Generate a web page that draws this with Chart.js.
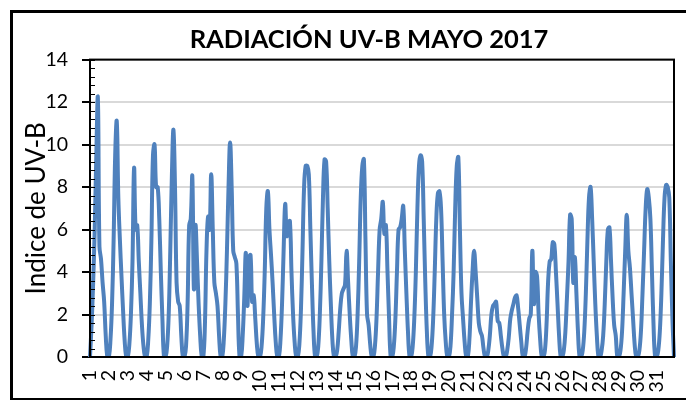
<!DOCTYPE html>
<html>
<head>
<meta charset="utf-8">
<script src="https://cdn.jsdelivr.net/npm/chart.js@4.4.0/dist/chart.umd.min.js"></script>
<style>
    html, body { margin: 0; padding: 0; background: #fff; overflow: hidden; }
    #wrap { position: relative; width: 686px; height: 400px; overflow: hidden; }
    #frame { position: absolute; left: 10px; top: 10px; width: 720px; height: 385px; border: 3px solid #000; box-sizing: content-box; pointer-events: none; }
    canvas { position: absolute; left: 0; top: 0; }
</style>
</head>
<body>
<div id="wrap">
    <canvas id="chart" width="738" height="400"></canvas>
    <div id="frame"></div>
</div>
<script>
// dias del mes y horas registradas por dia
const days = [1, 2, 3, 4, 5, 6, 7, 8, 9, 10, 11, 12, 13, 14, 15, 16,
              17, 18, 19, 20, 21, 22, 23, 24, 25, 26, 27, 28, 29, 30, 31];
const hours = [6, 7, 8, 9, 10, 11, 12, 13, 14, 15, 16, 17];

// indice UV-B horario, una fila por dia
const uvIndex = [
    0, 1.5, 3.5, 6.0, 9.5, 12.2, 5.2, 4.6, 3.5, 2.6, 1.0, 0,   // 1
    0, 0.8, 2.5, 5.5, 9.5, 11.1, 7.5, 5.5, 3.8, 2.2, 0.8, 0,   // 2
    0, 0.6, 2.0, 4.5, 8.9, 6.0, 6.2, 4.5, 3.0, 1.5, 0.5, 0,    // 3
    0, 0.8, 2.5, 5.5, 9.5, 10.0, 8.0, 8.0, 6.5, 4.0, 1.8, 0,   // 4
    0, 0.5, 2.0, 5.0, 8.5, 10.7, 8.0, 3.5, 2.6, 2.4, 1.0, 0,   // 5
    0, 0.5, 2.5, 6.2, 6.5, 8.5, 3.2, 6.2, 4.5, 2.5, 1.0, 0,    // 6
    0, 1.5, 5.0, 6.6, 6.0, 8.6, 6.0, 3.5, 3.0, 2.4, 1.0, 0,    // 7
    0, 0.8, 2.5, 5.0, 8.0, 10.1, 8.0, 5.0, 4.7, 4.4, 2.0, 0,   // 8
    0, 1.0, 2.8, 4.9, 2.4, 4.7, 4.8, 2.6, 2.9, 1.8, 0.6, 0,    // 9
    0, 0.5, 1.8, 4.0, 7.0, 7.8, 6.0, 4.8, 3.5, 2.0, 0.7, 0,    // 10
    0, 0.8, 2.5, 5.0, 7.2, 5.7, 6.3, 6.4, 4.0, 2.0, 0.7, 0,    // 11
    0, 0.6, 2.2, 5.0, 8.0, 9.0, 9.0, 8.6, 6.0, 3.4, 1.2, 0,    // 12
    0, 0.5, 2.0, 4.5, 7.5, 9.3, 9.2, 7.0, 4.5, 2.5, 0.8, 0,    // 13
    0, 0.3, 1.2, 2.3, 3.0, 3.2, 3.4, 5.0, 3.5, 2.0, 0.8, 0,    // 14
    0, 0.5, 2.0, 4.5, 7.5, 9.0, 9.3, 5.5, 2.0, 1.5, 0.6, 0,    // 15
    0, 0.5, 1.8, 4.0, 6.0, 6.5, 7.3, 5.8, 6.2, 4.0, 1.8, 0,    // 16
    0, 0.5, 1.8, 4.0, 6.0, 6.1, 6.5, 7.1, 5.0, 3.0, 1.2, 0,    // 17
    0, 0.5, 1.8, 4.0, 7.0, 9.0, 9.5, 9.2, 6.5, 3.5, 1.2, 0,    // 18
    0, 0.5, 1.8, 4.0, 6.5, 7.7, 7.8, 7.0, 4.5, 2.0, 0.7, 0,    // 19
    0, 0.5, 2.0, 4.0, 7.0, 9.0, 9.4, 6.0, 3.0, 1.8, 0.7, 0,    // 20
    0, 0.8, 2.5, 4.0, 5.0, 4.0, 2.8, 1.6, 1.2, 1.0, 0.4, 0,    // 21
    0, 0.3, 1.0, 2.0, 2.4, 2.5, 2.6, 1.7, 1.6, 1.0, 0.4, 0,    // 22
    0, 0.3, 0.9, 1.8, 2.2, 2.5, 2.8, 2.9, 2.3, 1.5, 0.7, 0,    // 23
    0, 0.4, 1.2, 1.8, 2.0, 5.0, 2.5, 4.0, 3.8, 2.0, 0.8, 0,    // 24
    0, 0.3, 1.5, 3.5, 4.5, 4.6, 5.4, 5.3, 4.0, 2.5, 1.0, 0,    // 25
    0, 0.3, 1.2, 2.8, 4.5, 6.7, 6.5, 3.5, 4.7, 3.0, 1.2, 0,    // 26
    0, 0.3, 1.2, 3.0, 5.5, 7.5, 8.0, 6.5, 4.5, 2.5, 1.0, 0,    // 27
    0, 0.3, 1.0, 2.5, 4.5, 6.0, 6.1, 4.5, 2.8, 1.5, 1.0, 0,    // 28
    0, 0.3, 1.2, 3.0, 5.0, 6.7, 5.0, 4.2, 3.0, 1.8, 0.6, 0,    // 29
    0, 0.3, 1.2, 3.0, 5.0, 7.0, 7.9, 7.5, 6.5, 4.0, 1.5, 0,    // 30
    0, 0.3, 1.2, 3.0, 5.5, 7.5, 8.1, 8.0, 7.5, 4.5, 1.8, 0     // 31
];

const FONT = "Lato, 'Liberation Sans', sans-serif";

// one label per hour, only the first hour of each day shows the day number
const labels = [];
days.forEach(d => hours.forEach((h, i) => labels.push(i === 0 ? String(d) : '')));

// box around the plot area plus small inside ticks on the y axis
const plotFrame = {
    id: 'plotFrame',
    afterDraw(chart) {
        const ctx = chart.ctx;
        const a = chart.chartArea;
        const y = chart.scales.y;
        ctx.save();
        ctx.strokeStyle = '#000';
        ctx.lineWidth = 1;
        for (let v = 0; v <= 14.001; v += 0.4) {
            const py = Math.round(y.getPixelForValue(v)) + 0.5;
            ctx.beginPath();
            ctx.moveTo(a.left, py);
            ctx.lineTo(a.left + 5, py);
            ctx.stroke();
        }
        ctx.lineWidth = 2;
        ctx.strokeRect(a.left, a.top, a.right - a.left, a.bottom - a.top);
        ctx.restore();
    }
};

new Chart(document.getElementById('chart'), {
    type: 'line',
    data: {
        labels: labels,
        datasets: [{
            data: uvIndex,
            borderColor: '#4f81bd',
            borderWidth: 4,
            pointRadius: 0,
            tension: 0.4,
            fill: false,
            borderJoinStyle: 'round',
            borderCapStyle: 'round'
        }]
    },
    options: {
        responsive: false,
        animation: false,
        devicePixelRatio: 1,
        layout: { padding: { left: 19, right: 19, top: 0, bottom: 0 } },
        plugins: {
            legend: { display: false },
            tooltip: { enabled: false },
            title: {
                display: true,
                text: 'RADIACIÓN UV-B MAYO 2017',
                color: '#000',
                font: { family: FONT, size: 25.5, weight: 'bold' },
                padding: { top: 24, bottom: 5 }
            }
        },
        scales: {
            x: {
                type: 'category',
                offset: false,
                grid: { display: false },
                border: { display: true, color: '#000', width: 2 },
                ticks: {
                    autoSkip: false,
                    maxRotation: 90,
                    minRotation: 90,
                    padding: 5,
                    color: '#000',
                    font: { family: FONT, size: 19.5 }
                },
                afterFit(scale) { scale.height = 43; }
            },
            y: {
                min: 0,
                max: 14,
                ticks: {
                    stepSize: 2,
                    padding: 14,
                    color: '#000',
                    font: { family: FONT, size: 19.5 }
                },
                grid: {
                    color: '#d9d9d9',
                    lineWidth: 2,
                    tickColor: '#000',
                    tickLength: 8
                },
                border: { display: true, color: '#000', width: 2 },
                title: {
                    display: true,
                    text: 'Indice de UV-B',
                    color: '#000',
                    font: { family: FONT, size: 26 },
                    padding: { top: 2, bottom: 0 }
                },
                afterFit(scale) { scale.width = 71; }
            },
            // empty right-hand strip so the plot ends where the reference does
            yRight: {
                position: 'right',
                min: 0,
                max: 14,
                grid: { display: false },
                border: { display: false },
                ticks: { display: false },
                afterFit(scale) { scale.width = 45; }
            }
        }
    },
    plugins: [plotFrame]
});
</script>
</body>
</html>
